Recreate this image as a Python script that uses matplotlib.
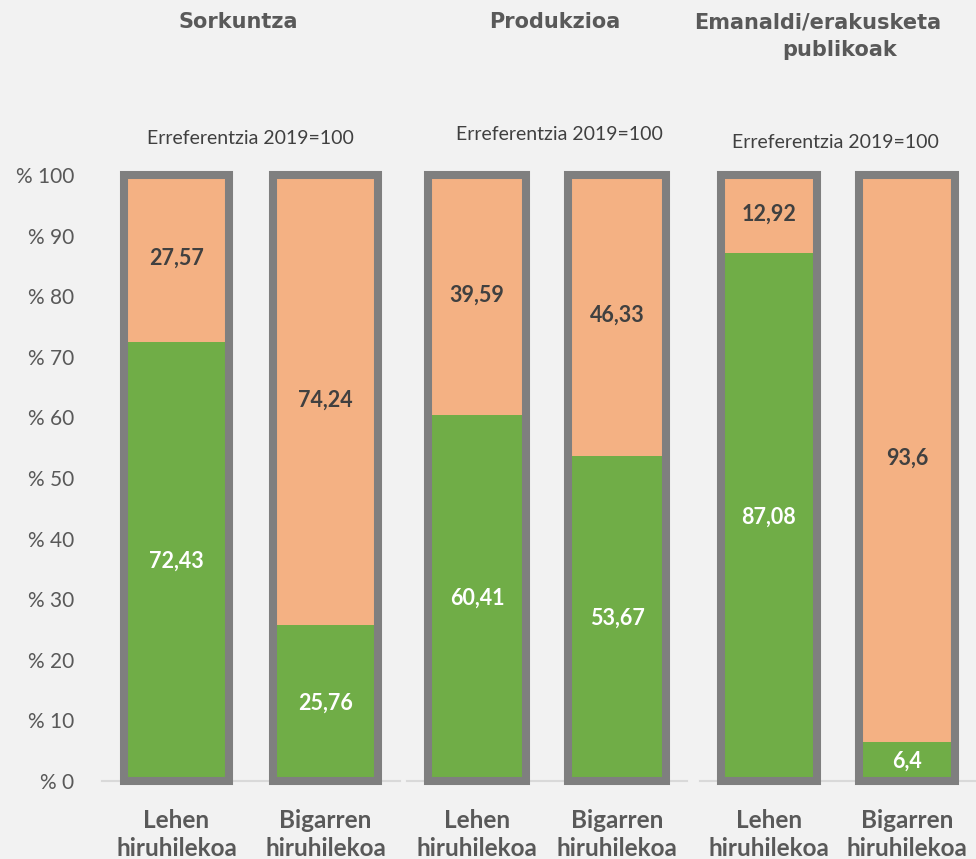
import matplotlib.pyplot as plt

# data
panels = ["Sorkuntza", "Produkzioa", "Emanaldi/erakusketa\npublikoak"]
quarters = ["Lehen\nhiruhilekoa", "Bigarren\nhiruhilekoa"]
green_vals = [[72.43, 25.76], [60.41, 53.67], [87.08, 6.4]]
orange_vals = [[27.57, 74.24], [39.59, 46.33], [12.92, 93.6]]
subtitle = "Erreferentzia 2019=100"
yticks = [0, 10, 20, 30, 40, 50, 60, 70, 80, 90, 100]

BG = "#F2F2F2"
GREEN = "#70AD47"
ORANGE = "#F4B183"
FRAME = "#7F7F7F"
TXT = "#595959"
W, H = 976, 859

fig = plt.figure(figsize=(W / 100, H / 100), dpi=100, facecolor=BG)

# panel extents in pixels (left, right)
spans = [(102, 400), (407, 687), (700, 976)]
y0, y100 = 781, 175
sub_pos = [(250, 138), (559, 135), (835, 142)]


def fx(px):
    return px / W


def fy(py):
    return 1 - py / H


def fmt(v):
    return ("%g" % v).replace(".", ",")


for k, (l, r) in enumerate(spans):
    ax = fig.add_axes([fx(l), fy(y0), (r - l) / W, (y0 - y100) / H])
    ax.set_facecolor(BG)
    x = [0, 1]
    g = green_vals[k]
    o = orange_vals[k]
    ax.bar(x, g, width=0.7, color=GREEN, zorder=2)
    ax.bar(x, o, bottom=g, width=0.7, color=ORANGE, zorder=2)
    tot = [a + b for a, b in zip(g, o)]
    ax.bar(x, tot, width=0.7, fill=False, edgecolor=FRAME, linewidth=5.8,
           zorder=3, clip_on=False)
    for i in x:
        ax.text(i, g[i] / 2, fmt(g[i]), ha="center", va="center", color="white",
                fontsize=15.5, fontweight="bold", family="Lato", zorder=4)
        ax.text(i, g[i] + o[i] / 2, fmt(o[i]), ha="center", va="center",
                color="#404040", fontsize=15.5, fontweight="bold", family="Lato", zorder=4)
    ax.set_xlim(-0.5, 1.5)
    ax.set_ylim(0, 100)
    for s in ["top", "right", "left"]:
        ax.spines[s].set_visible(False)
    ax.spines["bottom"].set_color("#D9D9D9")
    ax.spines["bottom"].set_linewidth(1.5)
    ax.spines["bottom"].set_zorder(1)
    ax.set_xticks(x)
    ax.set_xticklabels(quarters, fontsize=17.5, fontweight="bold", family="Lato",
                       color=TXT, linespacing=1.3)
    ax.tick_params(axis="x", length=0, pad=20)
    if k == 0:
        ax.set_yticks(yticks)
        ax.set_yticklabels(["% " + str(t) for t in yticks], fontsize=15,
                           family="Lato", color=TXT)
        ax.tick_params(axis="y", length=0, pad=20)
    else:
        ax.set_yticks([])
    sx, sy = sub_pos[k]
    fig.text(fx(sx), fy(sy), subtitle, ha="center", va="center", fontsize=14,
             family="Lato", color="#404040")

title_kw = dict(ha="center", va="center", fontsize=15, fontweight="bold",
                family="DejaVu Sans", color=TXT)
fig.text(fx(238), fy(22), panels[0], **title_kw)
fig.text(fx(555), fy(22), panels[1], **title_kw)
line1, line2 = panels[2].split("\n")
fig.text(fx(818), fy(22), line1, **title_kw)
fig.text(fx(840), fy(50), line2, **title_kw)

fig.savefig("out.png", dpi=100, facecolor=BG)
